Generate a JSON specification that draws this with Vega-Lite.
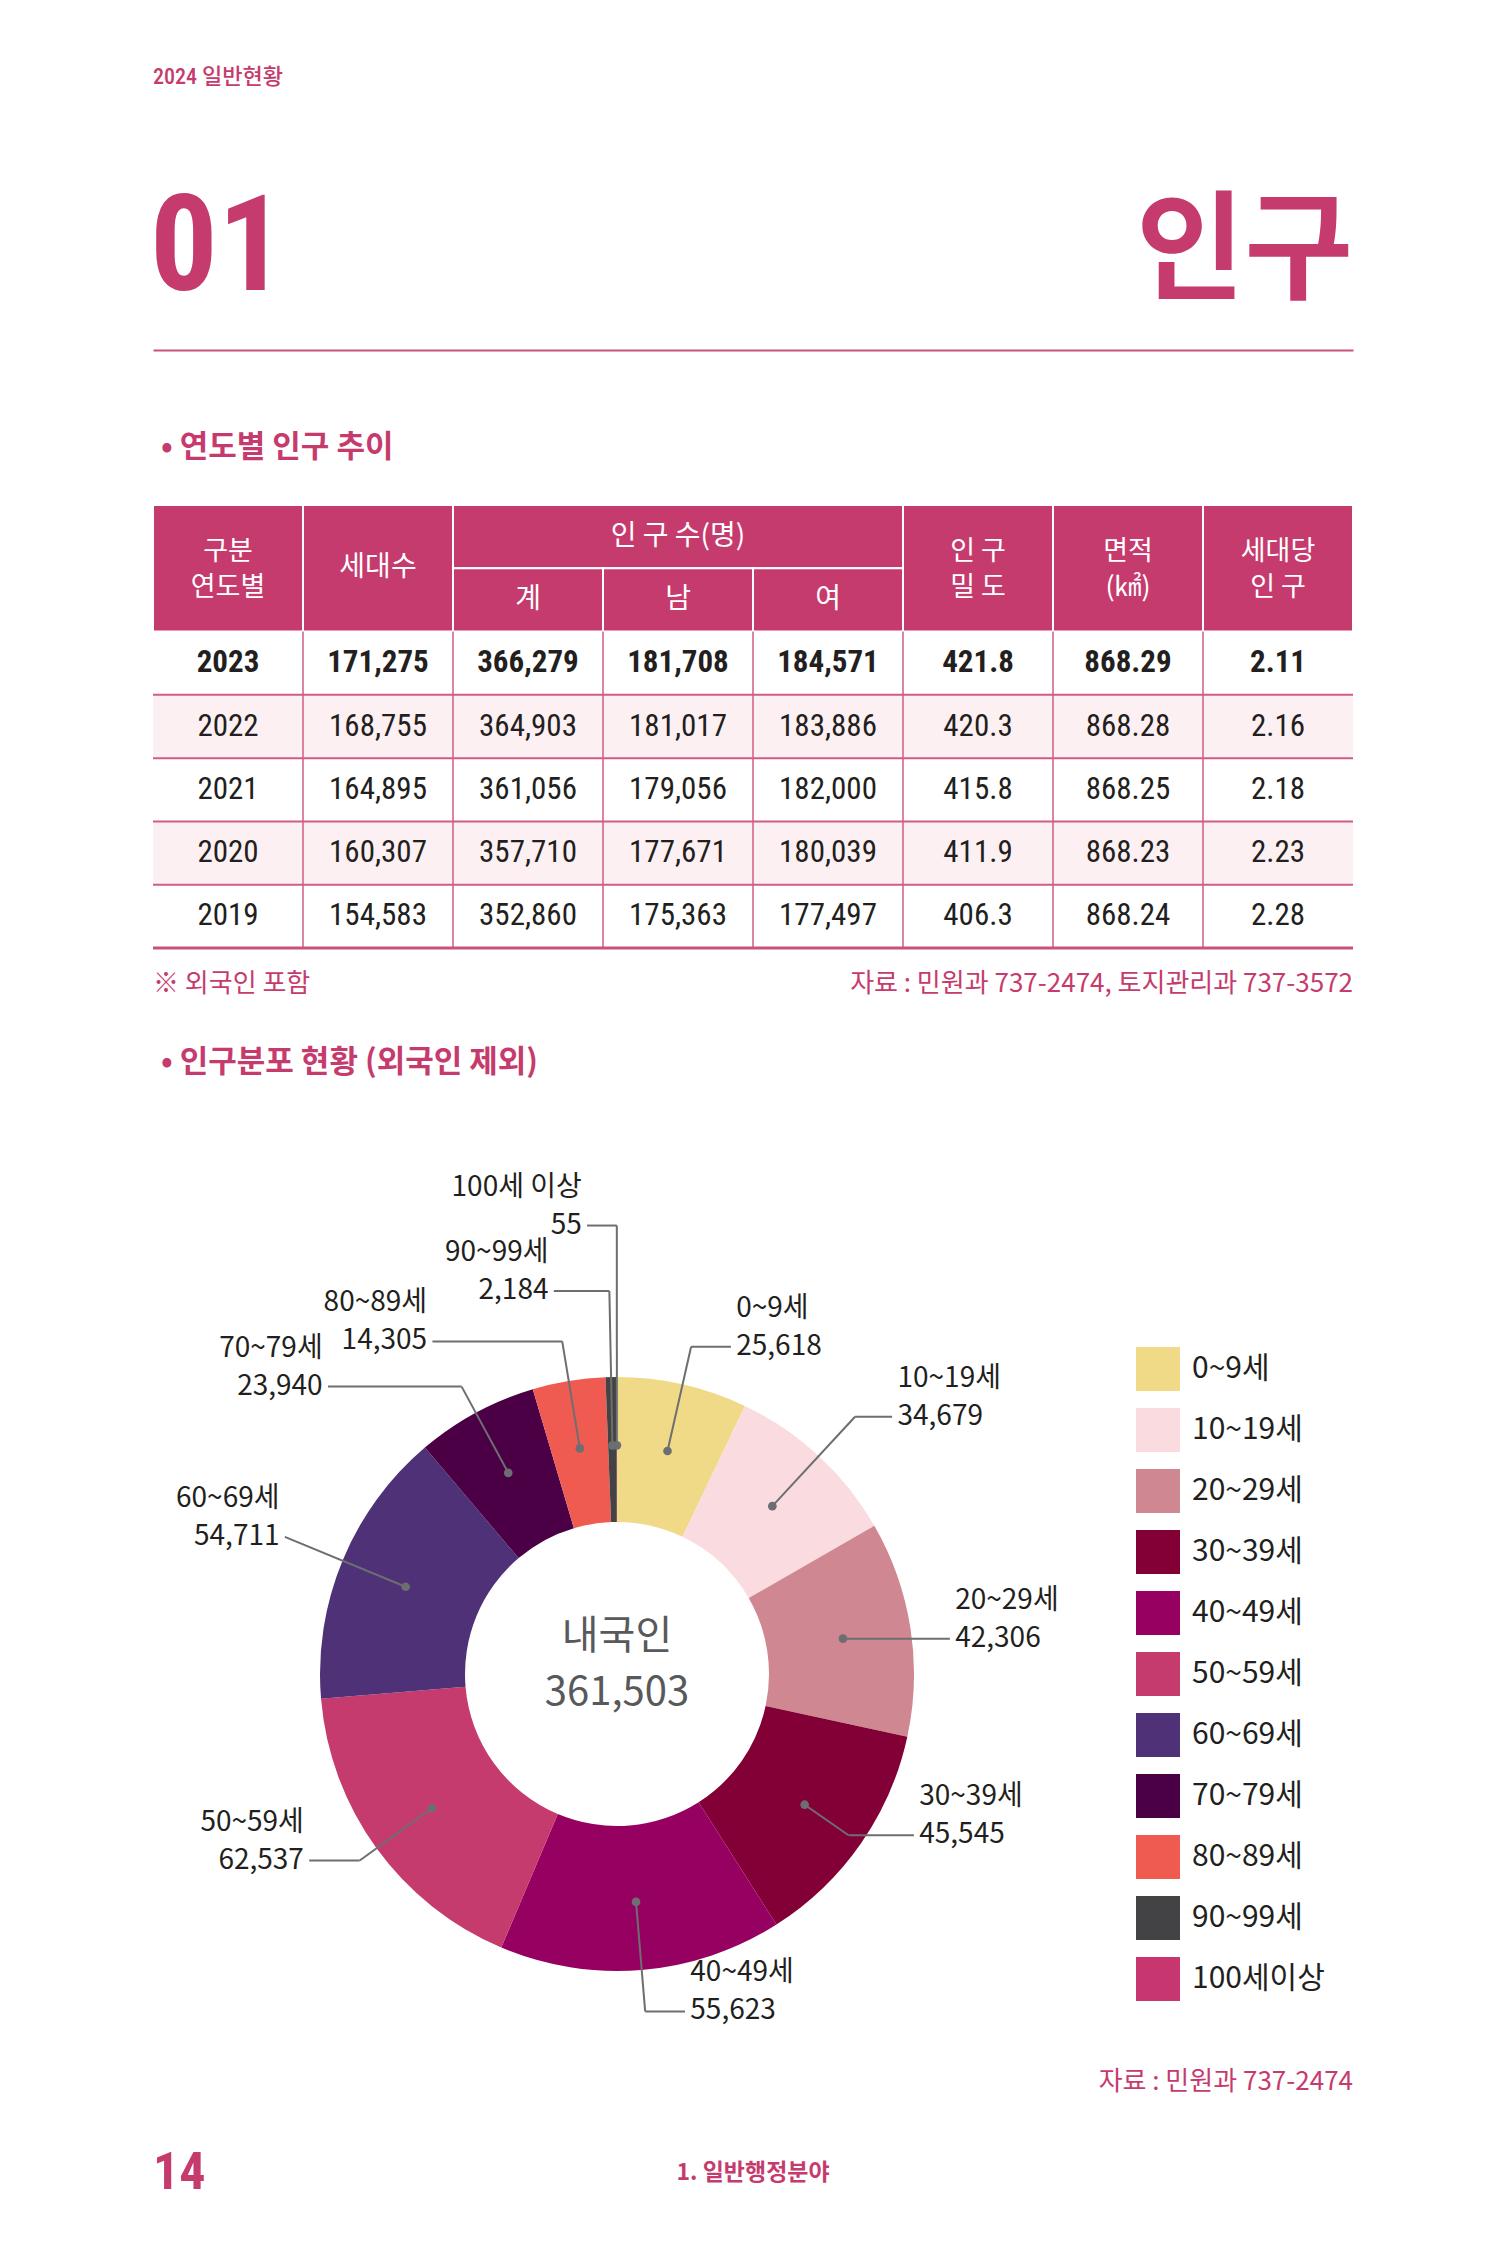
{
 "$schema": "https://vega.github.io/schema/vega-lite/v6.json",
 "background": "#ffffff",
 "padding": {"left": 150, "right": 150, "top": 0, "bottom": 26},
 "bounds": "flush",
 "spacing": 0,
 "config": {"view": {"stroke": null}, "font": "Noto Sans CJK KR"},
 "datasets": {
  "ages": [
   {"age": "0~9세", "pop": 25618, "idx": 0},
   {"age": "10~19세", "pop": 34679, "idx": 1},
   {"age": "20~29세", "pop": 42306, "idx": 2},
   {"age": "30~39세", "pop": 45545, "idx": 3},
   {"age": "40~49세", "pop": 55623, "idx": 4},
   {"age": "50~59세", "pop": 62537, "idx": 5},
   {"age": "60~69세", "pop": 54711, "idx": 6},
   {"age": "70~79세", "pop": 23940, "idx": 7},
   {"age": "80~89세", "pop": 14305, "idx": 8},
   {"age": "90~99세", "pop": 2184, "idx": 9},
   {"age": "100세이상", "pop": 55, "idx": 10}
  ],
  "years": [
   {"year": 2023, "hh": 171275, "tot": 366279, "male": 181708, "female": 184571, "dens": 421.8, "area": 868.29, "per": 2.11},
   {"year": 2022, "hh": 168755, "tot": 364903, "male": 181017, "female": 183886, "dens": 420.3, "area": 868.28, "per": 2.16},
   {"year": 2021, "hh": 164895, "tot": 361056, "male": 179056, "female": 182000, "dens": 415.8, "area": 868.25, "per": 2.18},
   {"year": 2020, "hh": 160307, "tot": 357710, "male": 177671, "female": 180039, "dens": 411.9, "area": 868.23, "per": 2.23},
   {"year": 2019, "hh": 154583, "tot": 352860, "male": 175363, "female": 177497, "dens": 406.3, "area": 868.24, "per": 2.28}
  ],
  "hdr": [
   {"h": "구분\n연도별", "c1": "year", "c2": "year", "cm": "year", "r1": "h1", "r2": "h2"},
   {"h": "세대수", "c1": "hh", "c2": "hh", "cm": "hh", "r1": "h1", "r2": "h2"},
   {"h": "인 구 수(명)", "c1": "tot", "c2": "female", "cm": "male", "r1": "h1", "r2": "h1"},
   {"h": "계", "c1": "tot", "c2": "tot", "cm": "tot", "r1": "h2", "r2": "h2"},
   {"h": "남", "c1": "male", "c2": "male", "cm": "male", "r1": "h2", "r2": "h2"},
   {"h": "여", "c1": "female", "c2": "female", "cm": "female", "r1": "h2", "r2": "h2"},
   {"h": "인 구\n밀 도", "c1": "dens", "c2": "dens", "cm": "dens", "r1": "h1", "r2": "h2"},
   {"h": "면적\n(㎢)", "c1": "area", "c2": "area", "cm": "area", "r1": "h1", "r2": "h2"},
   {"h": "세대당\n인 구", "c1": "per", "c2": "per", "cm": "per", "r1": "h1", "r2": "h2"}
  ]
 },
 "vconcat": [
  {
   "width": 1200, "height": 150,
   "data": {"values": [{}]},
   "mark": {"type": "text", "align": "left", "baseline": "middle", "fontSize": 22, "fontWeight": 500, "fill": "#c63b6d", "font": "'Roboto Condensed', 'Liberation Sans Narrow', 'Noto Sans CJK KR', sans-serif", "dy": 2},
   "encoding": {
    "x": {"datum": "start", "type": "nominal", "scale": {"type": "point", "domain": ["start", "mid", "end"], "padding": 0}, "axis": null},
    "text": {"value": "2024 일반현황"}
   }
  },
  {
   "width": 1200, "height": 200,
   "data": {"values": [{}]},
   "layer": [
    {
     "mark": {"type": "text", "align": "left", "baseline": "middle", "fontSize": 134, "fontWeight": "bold", "fill": "#c63b6d", "font": "'Roboto Condensed', 'Liberation Sans Narrow', 'Noto Sans CJK KR', sans-serif", "dx": -3},
     "encoding": {
      "x": {"datum": "start", "type": "nominal", "scale": {"type": "point", "domain": ["start", "mid", "end"], "padding": 0},
            "axis": {"orient": "bottom", "domain": true, "domainColor": "#c9527d", "domainWidth": 2, "labels": false, "ticks": false, "grid": false, "title": null}},
      "text": {"value": "01"}
     }
    },
    {
     "mark": {"type": "text", "align": "right", "baseline": "middle", "fontSize": 118, "fontWeight": "bold", "fill": "#c63b6d", "font": "Noto Sans CJK KR", "dy": 5},
     "encoding": {
      "x": {"datum": "end", "type": "nominal", "scale": {"type": "point", "domain": ["start", "mid", "end"], "padding": 0},
            "axis": {"orient": "bottom", "domain": true, "domainColor": "#c9527d", "domainWidth": 2, "labels": false, "ticks": false, "grid": false, "title": null}},
      "text": {"value": "인구"}
     }
    }
   ]
  },
  {
   "width": 1200, "height": 155,
   "data": {"values": [{}]},
   "mark": {"type": "text", "align": "left", "baseline": "middle", "fontSize": 31, "fontWeight": "bold", "fill": "#c63b6d", "dx": 8, "dy": 20},
   "encoding": {
    "x": {"datum": "start", "type": "nominal", "scale": {"type": "point", "domain": ["start", "mid", "end"], "padding": 0}, "axis": null},
    "text": {"value": "• 연도별 인구 추이"}
   }
  },
  {
   "width": 1200, "height": 443,
   "layer": [
    {
     "data": {"name": "years"},
     "transform": [{"filter": "datum.year == 2022 || datum.year == 2020"}, {"calculate": "toString(datum.year)", "as": "row"}],
     "mark": {"type": "rect", "fill": "#fdf0f3"},
     "encoding": {
      "x": {"datum": "year", "type": "nominal", "bandPosition": 0, "scale": {"type": "band", "domain": ["year", "hh", "tot", "male", "female", "dens", "area", "per"], "paddingInner": 0, "paddingOuter": 0}, "axis": null},
      "x2": {"datum": "per", "bandPosition": 1},
      "y": {"field": "row", "type": "nominal", "scale": {"type": "band", "domain": ["h1", "h2", "2023", "2022", "2021", "2020", "2019"], "paddingInner": 0, "paddingOuter": 0}, "axis": null}
     }
    },
    {
     "data": {"name": "hdr"},
     "mark": {"type": "rect", "fill": "#c63b6d", "stroke": "#ffffff", "strokeWidth": 2},
     "encoding": {
      "x": {"field": "c1", "type": "nominal", "bandPosition": 0, "scale": {"type": "band", "domain": ["year", "hh", "tot", "male", "female", "dens", "area", "per"], "paddingInner": 0, "paddingOuter": 0}, "axis": null},
      "x2": {"field": "c2", "bandPosition": 1},
      "y": {"field": "r1", "type": "nominal", "bandPosition": 0, "scale": {"type": "band", "domain": ["h1", "h2", "2023", "2022", "2021", "2020", "2019"], "paddingInner": 0, "paddingOuter": 0}, "axis": null},
      "y2": {"field": "r2", "bandPosition": 1}
     }
    },
    {
     "data": {"name": "years"},
     "transform": [{"filter": "datum.year == 2023"}, {"fold": ["hh", "tot", "male", "female", "dens", "area", "per"], "as": ["col", "v"]}],
     "mark": {"type": "rule", "stroke": "#cf5d86", "strokeWidth": 1.5},
     "encoding": {
      "x": {"field": "col", "type": "nominal", "bandPosition": 0, "scale": {"type": "band", "domain": ["year", "hh", "tot", "male", "female", "dens", "area", "per"], "paddingInner": 0, "paddingOuter": 0}, "axis": null},
      "y": {"datum": "2023", "type": "nominal", "bandPosition": 0, "scale": {"type": "band", "domain": ["h1", "h2", "2023", "2022", "2021", "2020", "2019"], "paddingInner": 0, "paddingOuter": 0}, "axis": null},
      "y2": {"datum": "2019", "bandPosition": 1}
     }
    },
    {
     "data": {"name": "years"},
     "transform": [{"filter": "datum.year != 2023"}, {"calculate": "toString(datum.year)", "as": "row"}],
     "mark": {"type": "rule", "stroke": "#cf5d86", "strokeWidth": 2},
     "encoding": {
      "y": {"field": "row", "type": "nominal", "bandPosition": 0, "scale": {"type": "band", "domain": ["h1", "h2", "2023", "2022", "2021", "2020", "2019"], "paddingInner": 0, "paddingOuter": 0}, "axis": null},
      "x": {"datum": "year", "type": "nominal", "bandPosition": 0, "scale": {"type": "band", "domain": ["year", "hh", "tot", "male", "female", "dens", "area", "per"], "paddingInner": 0, "paddingOuter": 0}, "axis": null},
      "x2": {"datum": "per", "bandPosition": 1}
     }
    },
    {
     "data": {"values": [{}]},
     "mark": {"type": "rule", "stroke": "#c9527d", "strokeWidth": 3},
     "encoding": {
      "y": {"datum": "2019", "type": "nominal", "bandPosition": 1, "scale": {"type": "band", "domain": ["h1", "h2", "2023", "2022", "2021", "2020", "2019"], "paddingInner": 0, "paddingOuter": 0}, "axis": null},
      "x": {"datum": "year", "type": "nominal", "bandPosition": 0, "scale": {"type": "band", "domain": ["year", "hh", "tot", "male", "female", "dens", "area", "per"], "paddingInner": 0, "paddingOuter": 0}, "axis": null},
      "x2": {"datum": "per", "bandPosition": 1}
     }
    },
    {
     "data": {"name": "hdr"},
     "transform": [{"filter": "datum.r1 != datum.r2 && indexof(datum.h, '\\n') >= 0"}],
     "mark": {"type": "text", "fill": "#ffffff", "fontSize": 27, "lineBreak": "\n", "lineHeight": 36, "baseline": "middle", "align": "center", "dy": -16},
     "encoding": {
      "x": {"field": "cm", "type": "nominal", "scale": {"type": "band", "domain": ["year", "hh", "tot", "male", "female", "dens", "area", "per"], "paddingInner": 0, "paddingOuter": 0}, "axis": null},
      "y": {"field": "r1", "type": "nominal", "bandPosition": 1, "scale": {"type": "band", "domain": ["h1", "h2", "2023", "2022", "2021", "2020", "2019"], "paddingInner": 0, "paddingOuter": 0}, "axis": null},
      "text": {"field": "h"}
     }
    },
    {
     "data": {"name": "hdr"},
     "transform": [{"filter": "datum.r1 != datum.r2 && indexof(datum.h, '\\n') < 0"}],
     "mark": {"type": "text", "fill": "#ffffff", "fontSize": 28, "baseline": "middle", "align": "center"},
     "encoding": {
      "x": {"field": "cm", "type": "nominal", "scale": {"type": "band", "domain": ["year", "hh", "tot", "male", "female", "dens", "area", "per"], "paddingInner": 0, "paddingOuter": 0}, "axis": null},
      "y": {"field": "r1", "type": "nominal", "bandPosition": 1, "scale": {"type": "band", "domain": ["h1", "h2", "2023", "2022", "2021", "2020", "2019"], "paddingInner": 0, "paddingOuter": 0}, "axis": null},
      "text": {"field": "h"}
     }
    },
    {
     "data": {"name": "hdr"},
     "transform": [{"filter": "datum.r1 == datum.r2"}],
     "mark": {"type": "text", "fill": "#ffffff", "fontSize": 28, "baseline": "middle", "align": "center"},
     "encoding": {
      "x": {"field": "cm", "type": "nominal", "scale": {"type": "band", "domain": ["year", "hh", "tot", "male", "female", "dens", "area", "per"], "paddingInner": 0, "paddingOuter": 0}, "axis": null},
      "y": {"field": "r1", "type": "nominal", "scale": {"type": "band", "domain": ["h1", "h2", "2023", "2022", "2021", "2020", "2019"], "paddingInner": 0, "paddingOuter": 0}, "axis": null},
      "text": {"field": "h"}
     }
    },
    {
     "data": {"name": "years"},
     "transform": [
      {"fold": ["year", "hh", "tot", "male", "female", "dens", "area", "per"], "as": ["col", "v"]},
      {"calculate": "toString(datum.year)", "as": "row"},
      {"calculate": "datum.col == 'year' ? toString(datum.v) : datum.col == 'dens' ? format(datum.v, '.1f') : (datum.col == 'area' || datum.col == 'per') ? format(datum.v, '.2f') : format(datum.v, ',')", "as": "txt"},
      {"filter": "datum.year == 2023"}
     ],
     "mark": {"type": "text", "fill": "#231f20", "fontSize": 31, "fontWeight": "bold", "baseline": "middle", "align": "center", "font": "'Roboto Condensed', 'Liberation Sans Narrow', 'Noto Sans CJK KR', sans-serif"},
     "encoding": {
      "x": {"field": "col", "type": "nominal", "scale": {"type": "band", "domain": ["year", "hh", "tot", "male", "female", "dens", "area", "per"], "paddingInner": 0, "paddingOuter": 0}, "axis": null},
      "y": {"field": "row", "type": "nominal", "scale": {"type": "band", "domain": ["h1", "h2", "2023", "2022", "2021", "2020", "2019"], "paddingInner": 0, "paddingOuter": 0}, "axis": null},
      "text": {"field": "txt"}
     }
    },
    {
     "data": {"name": "years"},
     "transform": [
      {"fold": ["year", "hh", "tot", "male", "female", "dens", "area", "per"], "as": ["col", "v"]},
      {"calculate": "toString(datum.year)", "as": "row"},
      {"calculate": "datum.col == 'year' ? toString(datum.v) : datum.col == 'dens' ? format(datum.v, '.1f') : (datum.col == 'area' || datum.col == 'per') ? format(datum.v, '.2f') : format(datum.v, ',')", "as": "txt"},
      {"filter": "datum.year != 2023"}
     ],
     "mark": {"type": "text", "fill": "#231f20", "fontSize": 31, "baseline": "middle", "align": "center", "font": "'Roboto Condensed', 'Liberation Sans Narrow', 'Noto Sans CJK KR', sans-serif"},
     "encoding": {
      "x": {"field": "col", "type": "nominal", "scale": {"type": "band", "domain": ["year", "hh", "tot", "male", "female", "dens", "area", "per"], "paddingInner": 0, "paddingOuter": 0}, "axis": null},
      "y": {"field": "row", "type": "nominal", "scale": {"type": "band", "domain": ["h1", "h2", "2023", "2022", "2021", "2020", "2019"], "paddingInner": 0, "paddingOuter": 0}, "axis": null},
      "text": {"field": "txt"}
     }
    }
   ]
  },
  {
   "width": 1200, "height": 72,
   "data": {"values": [{}]},
   "layer": [
    {
     "mark": {"type": "text", "align": "left", "baseline": "middle", "fontSize": 26, "fill": "#c63b6d"},
     "encoding": {
      "x": {"datum": "start", "type": "nominal", "scale": {"type": "point", "domain": ["start", "mid", "end"], "padding": 0}, "axis": null},
      "text": {"value": "※ 외국인 포함"}
     }
    },
    {
     "mark": {"type": "text", "align": "right", "baseline": "middle", "fontSize": 26, "fill": "#c63b6d"},
     "encoding": {
      "x": {"datum": "end", "type": "nominal", "scale": {"type": "point", "domain": ["start", "mid", "end"], "padding": 0}, "axis": null},
      "text": {"value": "자료 : 민원과 737-2474, 토지관리과 737-3572"}
     }
    }
   ]
  },
  {
   "width": 1200, "height": 86,
   "data": {"values": [{}]},
   "mark": {"type": "text", "align": "left", "baseline": "middle", "fontSize": 31, "fontWeight": "bold", "fill": "#c63b6d", "dx": 8},
   "encoding": {
    "x": {"datum": "start", "type": "nominal", "scale": {"type": "point", "domain": ["start", "mid", "end"], "padding": 0}, "axis": null},
    "text": {"value": "• 인구분포 현황 (외국인 제외)"}
   }
  },
  {
   "width": 1200, "height": 934,
   "data": {"name": "ages"},
   "transform": [
    {"window": [{"op": "sum", "field": "pop", "as": "cum"}], "sort": [{"field": "idx"}], "frame": [null, 0]},
    {"joinaggregate": [{"op": "sum", "field": "pop", "as": "total"}]},
    {"calculate": "2*PI*(datum.cum - datum.pop/2)/datum.total", "as": "mid"},
    {"calculate": "datum.mid < PI ? 1 : -1", "as": "sgn"},
    {"calculate": "[1.13,1.18,0.77,0.95,1.14,1.07,1.21,1.10,1.135,1.29,1.51][datum.idx]", "as": "re"},
    {"calculate": "[0.134,0.125,0.36,0.22,0.134,0.17,0,0.45,0.437,0.187,0.10][datum.idx]", "as": "hl"},
    {"calculate": "0.77*sin(datum.mid)", "as": "dotx"},
    {"calculate": "0.77*cos(datum.mid)", "as": "doty"},
    {"calculate": "datum.re*sin(datum.mid)", "as": "ex"},
    {"calculate": "datum.re*cos(datum.mid)", "as": "ey"},
    {"calculate": "datum.ex + datum.sgn*datum.hl", "as": "hx"},
    {"calculate": "datum.hx + datum.sgn*0.018", "as": "tx"},
    {"calculate": "(datum.age == '100세이상' ? '100세 이상' : datum.age) + '\\n' + format(datum.pop, ',')", "as": "lbl"}
   ],
   "layer": [
    {
     "mark": {"type": "arc", "outerRadius": 297, "innerRadius": 152},
     "encoding": {
      "theta": {"field": "pop", "type": "quantitative", "stack": true},
      "order": {"field": "idx", "type": "quantitative"},
      "color": {"field": "age", "type": "nominal",
       "scale": {"domain": ["0~9세", "10~19세", "20~29세", "30~39세", "40~49세", "50~59세", "60~69세", "70~79세", "80~89세", "90~99세", "100세이상"],
                 "range": ["#f1da87", "#f9dbe0", "#cf8892", "#830037", "#960060", "#c63b6e", "#4e3176", "#4b0046", "#ef5b50", "#434345", "#c83670"]},
       "legend": {"orient": "none", "legendX": 983, "legendY": 1347, "title": null, "symbolType": "square", "symbolSize": 1936, "symbolStrokeWidth": 0, "symbolOpacity": 1, "labelFontSize": 30, "labelColor": "#231f20", "labelFont": "Noto Sans CJK KR", "labelOffset": 12, "rowPadding": 17, "padding": 0}},
      "x": {"datum": 0, "type": "quantitative", "scale": {"domain": [-1.5623, 2.4781], "nice": false, "zero": false}, "axis": null},
      "y": {"datum": 0, "type": "quantitative", "scale": {"domain": [-1.2323, 1.9125], "nice": false, "zero": false}, "axis": null}
     }
    },
    {
     "mark": {"type": "rule", "stroke": "#6d6e71", "strokeWidth": 2},
     "encoding": {
      "x": {"field": "dotx", "type": "quantitative", "scale": {"domain": [-1.5623, 2.4781], "nice": false, "zero": false}, "axis": null},
      "y": {"field": "doty", "type": "quantitative", "scale": {"domain": [-1.2323, 1.9125], "nice": false, "zero": false}, "axis": null},
      "x2": {"field": "ex"},
      "y2": {"field": "ey"}
     }
    },
    {
     "mark": {"type": "rule", "stroke": "#6d6e71", "strokeWidth": 2},
     "encoding": {
      "x": {"field": "ex", "type": "quantitative", "scale": {"domain": [-1.5623, 2.4781], "nice": false, "zero": false}, "axis": null},
      "y": {"field": "ey", "type": "quantitative", "scale": {"domain": [-1.2323, 1.9125], "nice": false, "zero": false}, "axis": null},
      "x2": {"field": "hx"},
      "y2": {"field": "ey"}
     }
    },
    {
     "mark": {"type": "circle", "fill": "#6d6e71", "opacity": 1, "size": 75},
     "encoding": {
      "x": {"field": "dotx", "type": "quantitative", "scale": {"domain": [-1.5623, 2.4781], "nice": false, "zero": false}, "axis": null},
      "y": {"field": "doty", "type": "quantitative", "scale": {"domain": [-1.2323, 1.9125], "nice": false, "zero": false}, "axis": null}
     }
    },
    {
     "transform": [{"filter": "datum.sgn > 0"}],
     "mark": {"type": "text", "align": "left", "baseline": "middle", "fontSize": 28, "fill": "#231f20", "lineBreak": "\n", "lineHeight": 38, "dy": -38},
     "encoding": {
      "x": {"field": "tx", "type": "quantitative", "scale": {"domain": [-1.5623, 2.4781], "nice": false, "zero": false}, "axis": null},
      "y": {"field": "ey", "type": "quantitative", "scale": {"domain": [-1.2323, 1.9125], "nice": false, "zero": false}, "axis": null},
      "text": {"field": "lbl"}
     }
    },
    {
     "transform": [{"filter": "datum.sgn < 0"}],
     "mark": {"type": "text", "align": "right", "baseline": "middle", "fontSize": 28, "fill": "#231f20", "lineBreak": "\n", "lineHeight": 38, "dy": -38},
     "encoding": {
      "x": {"field": "tx", "type": "quantitative", "scale": {"domain": [-1.5623, 2.4781], "nice": false, "zero": false}, "axis": null},
      "y": {"field": "ey", "type": "quantitative", "scale": {"domain": [-1.2323, 1.9125], "nice": false, "zero": false}, "axis": null},
      "text": {"field": "lbl"}
     }
    },
    {
     "transform": [{"aggregate": [{"op": "sum", "field": "pop", "as": "allpop"}]}, {"calculate": "'내국인' + '\\n' + format(datum.allpop, ',')", "as": "t"}],
     "mark": {"type": "text", "align": "center", "baseline": "middle", "fontSize": 40, "fill": "#58595b", "lineBreak": "\n", "lineHeight": 56, "dy": -37},
     "encoding": {
      "x": {"datum": 0, "type": "quantitative", "scale": {"domain": [-1.5623, 2.4781], "nice": false, "zero": false}, "axis": null},
      "y": {"datum": 0, "type": "quantitative", "scale": {"domain": [-1.2323, 1.9125], "nice": false, "zero": false}, "axis": null},
      "text": {"field": "t"}
     }
    }
   ]
  },
  {
   "width": 1200, "height": 84,
   "data": {"values": [{}]},
   "mark": {"type": "text", "align": "right", "baseline": "middle", "fontSize": 26, "fill": "#c63b6d"},
   "encoding": {
    "x": {"datum": "end", "type": "nominal", "scale": {"type": "point", "domain": ["start", "mid", "end"], "padding": 0}, "axis": null},
    "text": {"value": "자료 : 민원과 737-2474"}
   }
  },
  {
   "width": 1200, "height": 98,
   "data": {"values": [{}]},
   "layer": [
    {
     "mark": {"type": "text", "align": "left", "baseline": "middle", "fontSize": 52, "fontWeight": "bold", "fill": "#c63b6d", "font": "'Roboto Condensed', 'Liberation Sans Narrow', 'Noto Sans CJK KR', sans-serif"},
     "encoding": {
      "x": {"datum": "start", "type": "nominal", "scale": {"type": "point", "domain": ["start", "mid", "end"], "padding": 0}, "axis": null},
      "text": {"value": "14"}
     }
    },
    {
     "mark": {"type": "text", "align": "center", "baseline": "middle", "fontSize": 23, "fontWeight": "bold", "fill": "#c63b6d"},
     "encoding": {
      "x": {"datum": "mid", "type": "nominal", "scale": {"type": "point", "domain": ["start", "mid", "end"], "padding": 0}, "axis": null},
      "text": {"value": "1. 일반행정분야"}
     }
    }
   ]
  }
 ]
}
